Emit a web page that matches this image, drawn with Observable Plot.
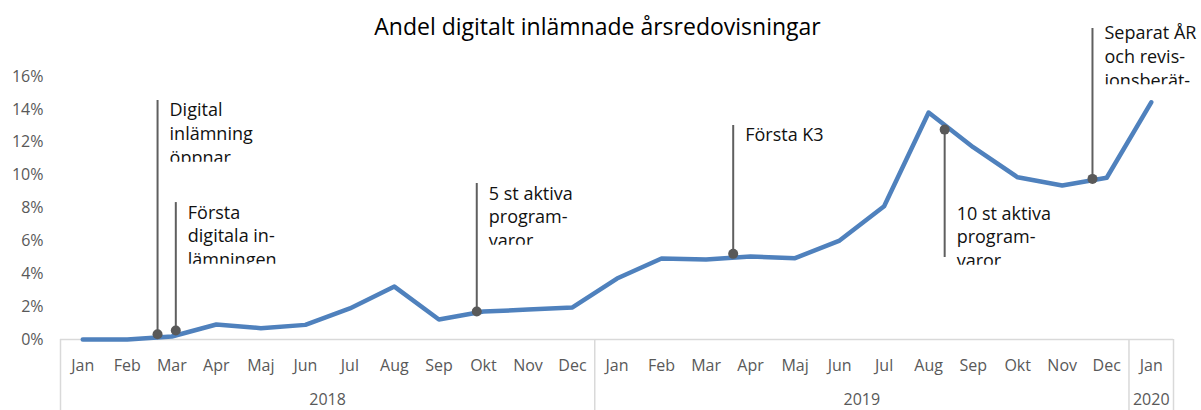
<!DOCTYPE html>
<html>
<head>
<meta charset="utf-8">
<script src="https://cdn.jsdelivr.net/npm/d3@7"></script>
<script src="https://cdn.jsdelivr.net/npm/@observablehq/plot@0.6"></script>
<style>
  body { margin: 0; background: #fff; }
  #chart { width: 1201px; height: 410px; }
</style>
</head>
<body>
<div id="chart"></div>
<script>
const title = "Andel digitalt inlämnade årsredovisningar";

const months = ["Jan","Feb","Mar","Apr","Maj","Jun","Jul","Aug","Sep","Okt","Nov","Dec",
                "Jan","Feb","Mar","Apr","Maj","Jun","Jul","Aug","Sep","Okt","Nov","Dec",
                "Jan"];
// share of digitally submitted annual reports, percent
const values = [0, 0, 0.18, 0.91, 0.69, 0.89, 1.89, 3.22, 1.22, 1.70, 1.82, 1.95,
                3.71, 4.93, 4.87, 5.05, 4.95, 6.02, 8.11, 13.81, 11.70, 9.87, 9.37, 9.84,
                14.43];

const yearLabels = ["2018", "2019", "2020"];
const yearStart = [0, 12, 24];
const yearEnd = [11, 23, 24];

const yTicks = [0, 2, 4, 6, 8, 10, 12, 14, 16];

const annotTexts = [
  "Digital\ninlämning\nöppnar",
  "Första\ndigitala in-\nlämningen",
  "5 st aktiva\nprogram-\nvaror",
  "Första K3",
  "10 st aktiva\nprogram-\nvaror",
  "Separat ÅR\noch revis-\nionsberät-"
];
const annotX = [1.68, 2.09, 8.85, 14.61, 19.36, 22.68];      // month index (fractional)
const annotY = [0.32, 0.55, 1.70, 5.21, 12.77, 9.77];        // point on the line, %
const annotEnd = [14.54, 8.33, 9.49, 13.02, 4.99, 18.92];    // other end of leader, %
const annotTextY = [14.54, 8.33, 9.49, 13.02, 8.27, 19.25];  // top of label, %

// ---- derived tables
const series = values.map((v, i) => ({i, month: months[i], v}));
const years = yearLabels.map((label, k) => ({label, mid: (yearStart[k] + yearEnd[k]) / 2}));
const boundaries = [yearStart[0] - 0.5, ...yearEnd.map(e => e + 0.5)];
const annots = annotTexts.map((text, k) => ({
  text, x: annotX[k], y: annotY[k], end: annotEnd[k], ty: annotTextY[k]
}));

const plot = Plot.plot({
  width: 1201,
  height: 410,
  marginLeft: 60,
  marginRight: 28,
  marginTop: 76,
  marginBottom: 71,
  style: {fontFamily: "'Open Sans', sans-serif", fontSize: "16px", color: "#595959", background: "#fff"},
  x: {domain: [-0.5, 24.5], axis: null},
  y: {domain: [0, 16]},
  marks: [
    Plot.axisY({ticks: yTicks, tickFormat: d => d + "%", tickSize: 0, tickPadding: 17, label: null}),
    Plot.ruleY([0], {stroke: "#d9d9d9", strokeWidth: 1.5}),
    Plot.ruleX(boundaries, {x: d => d, y1: 0, y2: 0, insetBottom: -71, stroke: "#d9d9d9", strokeWidth: 1.5}),
    Plot.text(series, {x: "i", text: "month", frameAnchor: "bottom", dy: 31, fill: "#595959"}),
    Plot.text(years, {x: "mid", text: "label", frameAnchor: "bottom", dy: 65, fill: "#595959"}),
    Plot.line(series, {x: "i", y: "v", stroke: "#4f81bd", strokeWidth: 4.5,
                       strokeLinejoin: "round", strokeLinecap: "round"}),
    Plot.ruleX(annots, {x: "x", y1: "y", y2: "end", stroke: "#5f5f5f", strokeWidth: 2}),
    Plot.dot(annots, {x: "x", y: "y", r: 5, fill: "#595959", stroke: "none"}),
    Plot.text(annots, {x: "x", y: "ty", text: "text", textAnchor: "start", lineAnchor: "top",
                       dx: 12, dy: -1, fontSize: 18, lineHeight: 1.33, fill: "#111"}),
    Plot.text([title], {frameAnchor: "top", lineAnchor: "top", dx: -19.5, dy: -58,
                        fontSize: 23, fill: "#000"})
  ]
});

document.getElementById("chart").append(plot);

// clip the third line of each annotation like a fixed-height text box
const defs = d3.select(plot).append("defs");
let k = 0;
d3.select(plot).selectAll("text").each(function() {
  const tspans = Array.from(this.querySelectorAll("tspan"));
  if (tspans.length < 3) return;
  const bb = this.getBBox();
  const third = tspans[2].getBBox();
  // bottom of the visible area: just above the third line's baseline
  const bottom = third.y + third.height * 0.74 - 1.5;
  const top = bb.y - 20;
  const id = "clip-annot-" + (k++);
  defs.append("clipPath").attr("id", id)
    .append("rect")
    .attr("x", bb.x - 4).attr("y", top)
    .attr("width", bb.width + 8)
    .attr("height", bottom - top);
  d3.select(this).attr("clip-path", `url(#${id})`);
});
</script>
</body>
</html>
